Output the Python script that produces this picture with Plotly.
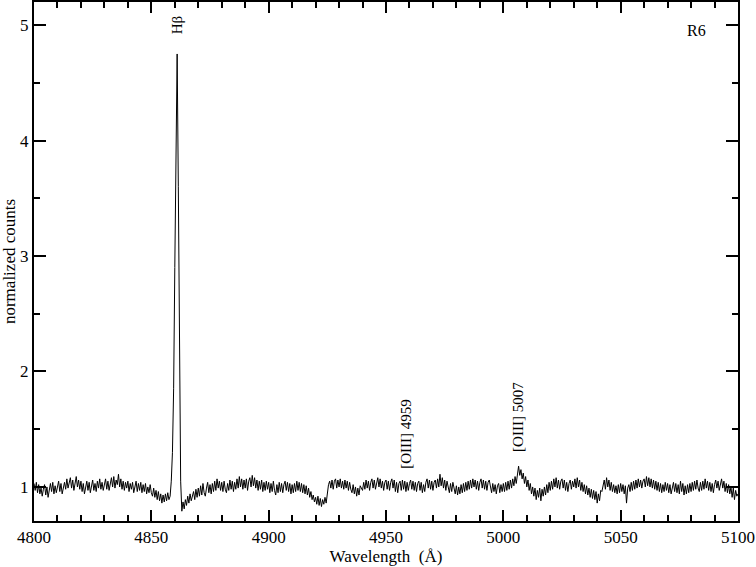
import numpy as np
import plotly.graph_objects as go

# spectrum sampled every 0.5 A from 4800 to 5100
lam_start = 4800.0
lam_step = 0.5

counts = [
    1.03, 0.97, 1.04, 0.95, 1.02, 0.94, 0.99, 0.92, 0.98, 1.02, 0.93, 1.00, 0.91, 0.97, 1.03, 0.96, 1.04, 0.94, 1.01, 0.95,
    1.00, 1.05, 0.96, 1.03, 0.94, 1.00, 1.04, 0.98, 1.07, 0.99, 1.04, 1.08, 0.99, 1.06, 0.97, 1.04, 1.09, 1.00, 1.06, 0.98,
    1.05, 0.96, 1.03, 0.94, 1.01, 1.05, 0.97, 1.04, 0.95, 1.02, 1.06, 0.97, 1.03, 0.96, 1.05, 0.99, 1.07, 0.98, 1.04, 0.97,
    1.03, 1.07, 0.98, 1.05, 0.97, 1.04, 1.08, 1.00, 1.09, 0.99, 1.06, 1.02, 1.11, 1.00, 1.07, 0.98, 1.05, 0.97, 1.04, 0.99,
    1.05, 0.96, 1.03, 0.98, 1.04, 0.95, 1.02, 1.05, 0.96, 1.03, 0.97, 1.04, 0.95, 1.02, 0.96, 1.03, 0.94, 1.00, 0.95, 1.02,
    0.95, 0.92, 0.99, 0.91, 0.97, 0.89, 0.96, 0.88, 0.94, 0.86, 0.93, 0.87, 0.94, 0.88, 0.95, 0.89, 0.92, 1.05, 1.30, 1.85,
    2.90, 4.20, 4.75, 3.60, 1.90, 1.05, 0.79, 0.87, 0.81, 0.89, 0.84, 0.92, 0.86, 0.94, 0.88, 0.93, 0.96, 0.89, 0.98, 0.91,
    0.99, 0.92, 1.01, 0.93, 1.03, 0.95, 0.92, 0.99, 1.04, 0.95, 1.02, 0.94, 1.03, 0.96, 1.05, 0.97, 1.07, 0.99, 1.05, 0.97,
    1.04, 0.96, 1.05, 0.98, 0.95, 1.03, 0.97, 1.06, 0.98, 1.05, 0.96, 1.04, 0.98, 1.07, 0.99, 1.09, 1.00, 1.07, 0.98, 1.06,
    0.99, 1.07, 0.97, 1.05, 1.08, 1.00, 1.10, 1.01, 1.08, 0.99, 1.06, 0.97, 1.05, 0.98, 1.06, 0.96, 1.04, 0.97, 1.05, 0.98,
    1.04, 0.95, 1.03, 0.96, 1.05, 0.97, 0.93, 1.02, 0.95, 1.04, 0.96, 1.03, 0.95, 1.02, 1.05, 0.97, 1.04, 0.96, 1.03, 0.94,
    1.02, 0.95, 1.03, 0.96, 1.05, 0.97, 1.04, 0.96, 1.03, 0.95, 1.02, 0.94, 1.01, 0.93, 0.99, 0.91, 0.96, 0.89, 0.93, 0.87,
    0.91, 0.85, 0.92, 0.84, 0.90, 0.83, 0.89, 0.85, 0.91, 0.86, 0.96, 1.02, 1.05, 0.99, 1.06, 0.98, 1.05, 1.07, 0.99, 1.06,
    1.00, 1.07, 0.99, 1.05, 0.98, 1.06, 0.99, 1.05, 0.97, 1.04, 0.98, 0.95, 1.02, 0.94, 1.00, 0.92, 0.99, 0.93, 1.01, 0.99,
    0.97, 1.04, 0.98, 1.06, 0.99, 1.05, 0.97, 1.04, 1.07, 0.99, 1.06, 0.98, 1.05, 1.08, 1.00, 1.07, 0.99, 1.05, 0.97, 1.04,
    1.06, 0.98, 1.05, 0.97, 1.04, 1.07, 0.99, 1.06, 0.96, 1.04, 0.95, 1.03, 1.05, 0.97, 1.06, 0.98, 1.05, 0.96, 1.04, 0.97,
    1.03, 1.06, 0.98, 1.05, 0.97, 1.04, 0.96, 1.03, 1.05, 0.97, 1.04, 0.95, 1.02, 0.96, 1.04, 1.07, 0.99, 1.06, 0.98, 1.05,
    0.97, 1.04, 1.06, 0.99, 1.07, 1.00, 1.11, 1.01, 1.08, 0.99, 1.06, 0.97, 1.05, 0.98, 0.95, 1.03, 0.96, 1.04, 0.97, 0.94,
    1.01, 0.93, 1.00, 0.94, 1.02, 0.95, 1.03, 0.96, 1.04, 0.97, 1.05, 0.98, 1.06, 0.99, 1.07, 1.00, 1.06, 0.98, 1.05, 0.97,
    1.04, 1.07, 0.99, 1.06, 0.98, 1.05, 0.97, 1.04, 1.06, 0.98, 0.95, 1.03, 0.96, 1.02, 0.94, 1.01, 1.03, 0.95, 1.02, 0.96,
    1.03, 0.96, 1.04, 0.97, 1.05, 0.98, 1.06, 0.99, 1.07, 1.01, 1.09, 1.03, 1.13, 1.18, 1.10, 1.15, 1.07, 1.12, 1.03, 1.09,
    1.00, 1.06, 0.97, 1.03, 0.94, 1.00, 0.92, 0.99, 0.89, 0.97, 0.91, 0.99, 0.88, 0.98, 0.92, 1.00, 0.93, 1.02, 0.95, 1.04,
    0.97, 1.05, 0.98, 1.07, 1.00, 1.08, 0.99, 1.06, 0.98, 1.05, 1.07, 0.99, 1.06, 0.97, 1.04, 0.96, 1.03, 1.06, 0.98, 1.05,
    1.00, 1.07, 0.99, 1.08, 1.00, 1.06, 0.97, 1.04, 0.96, 1.02, 0.94, 1.01, 0.93, 0.99, 0.91, 0.98, 0.90, 0.97, 0.89, 0.96,
    0.86, 0.94, 0.88, 0.97, 0.96, 1.03, 1.06, 0.98, 1.08, 1.00, 1.06, 0.97, 1.04, 0.96, 1.02, 0.95, 1.01, 0.94, 1.02, 0.95,
    1.03, 0.96, 1.02, 0.94, 1.01, 0.86, 0.99, 1.02, 0.96, 1.04, 0.97, 1.05, 0.98, 1.06, 0.99, 1.07, 1.00, 1.06, 0.99, 1.05,
    1.07, 1.00, 1.09, 1.01, 1.08, 1.00, 1.07, 0.99, 1.06, 0.98, 1.05, 0.97, 1.04, 0.96, 1.03, 0.95, 1.02, 0.96, 1.04, 0.97,
    1.03, 0.95, 1.02, 0.94, 1.01, 1.04, 0.96, 1.03, 0.95, 1.02, 0.94, 1.05, 0.96, 1.03, 0.93, 1.01, 0.94, 1.02, 0.95, 1.03,
    0.96, 1.04, 0.97, 1.05, 0.98, 1.06, 0.99, 0.96, 1.04, 0.97, 1.05, 0.98, 1.07, 0.99, 1.05, 0.97, 1.04, 0.96, 1.03, 0.95,
    1.02, 1.06, 0.99, 1.05, 0.97, 1.04, 1.07, 0.99, 1.05, 0.96, 1.03, 0.95, 1.02, 0.94, 1.00, 0.91, 0.99, 0.89, 0.97, 0.92,
    0.94,
]
wavelength = lam_start + lam_step * np.arange(len(counts))

# emission line labels
line_labels = ["H\u03b2", "[OIII] 4959", "[OIII] 5007"]
label_x = [4861, 4958.5, 5006]
label_y = [5.0, 1.46, 1.61]

font = "Liberation Serif, Times New Roman, serif"

fig = go.Figure()
fig.add_trace(go.Scatter(x=wavelength, y=counts, mode="lines",
                         line=dict(color="black", width=1), showlegend=False))

for txt, lx, ly in zip(line_labels, label_x, label_y):
    fig.add_annotation(x=lx, y=ly, text=txt, showarrow=False, textangle=-90,
                       font=dict(family=font, size=15, color="black"))
fig.add_annotation(x=5082.5, y=4.95, text="R6", showarrow=False,
                   font=dict(family=font, size=16, color="black"))

axis_common = dict(showgrid=False, zeroline=False, showline=True, linecolor="black",
                   linewidth=2, mirror="ticks", ticks="inside", tickcolor="black",
                   tickwidth=1.5, tickfont=dict(family=font, size=17, color="black"))

fig.update_xaxes(range=[4800, 5100], dtick=50, ticklen=11,
                 minor=dict(dtick=10, ticks="inside", ticklen=6, tickcolor="black", tickwidth=1.5),
                 title=dict(text="Wavelength  (\u00c5)", font=dict(family=font, size=17, color="black"),
                            standoff=3),
                 **axis_common)
fig.update_yaxes(range=[0.705, 5.2], dtick=1, ticklen=12,
                 minor=dict(dtick=0.5, ticks="inside", ticklen=6, tickcolor="black", tickwidth=1.5),
                 title=dict(text="normalized counts", font=dict(family=font, size=17, color="black"),
                            standoff=2),
                 **axis_common)

fig.update_layout(width=756, height=567, plot_bgcolor="white", paper_bgcolor="white",
                  margin=dict(l=34, r=18, t=2, b=46, autoexpand=False))

# page body has a default 8px margin; drop it so the figure sits at the corner
fig.write_html("out.html", config={"displayModeBar": False},
               post_script="document.body.style.margin='0';")
